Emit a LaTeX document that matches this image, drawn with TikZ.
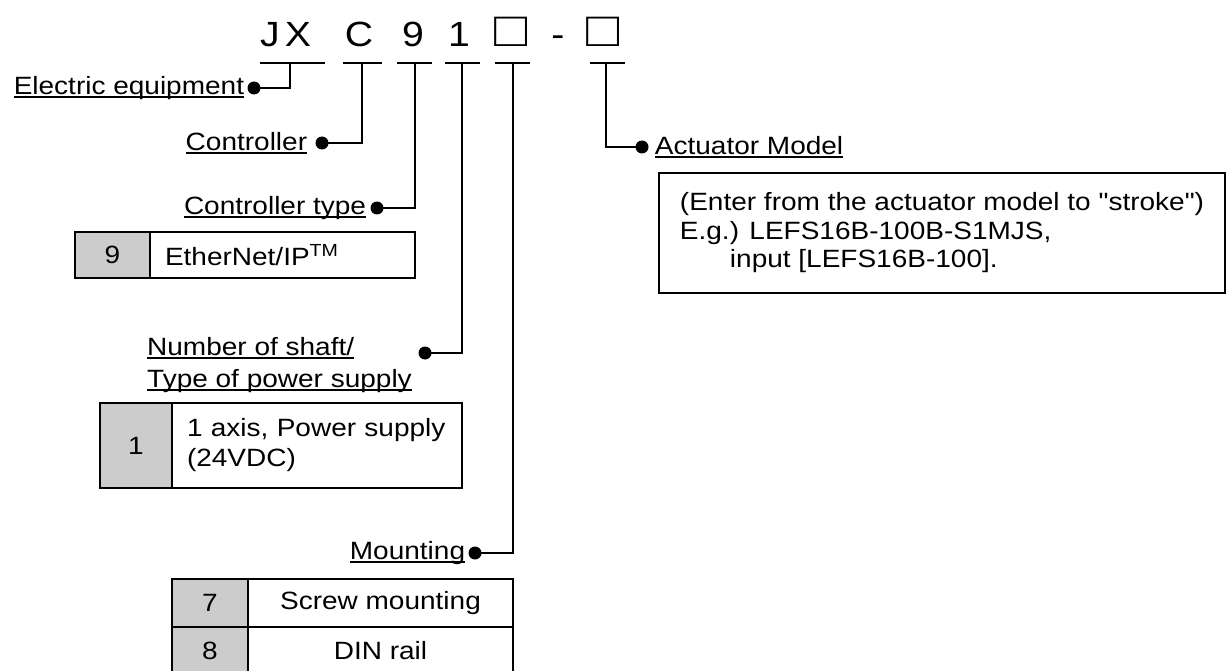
\documentclass[tikz,border=0pt]{standalone}
\usepackage{fontspec}
\setmainfont[FakeStretch=1.12,Ligatures=TeXOff]{Liberation Sans}
\usetikzlibrary{positioning}

% underlined label text
\newcommand{\undl}[1]{\setbox0\hbox{#1}\rlap{\rule[-4pt]{\wd0}{2pt}}\box0}

\begin{document}
\begin{tikzpicture}[x=1pt,y=-1pt,
    wire/.style={line width=2.7pt},
    dot/.style={circle,fill=black,inner sep=0pt,minimum size=13pt},
    lbl/.style={inner sep=0pt,font=\fontsize{25}{32}\selectfont},
    codechar/.style={inner sep=0pt,anchor=base},
    codecell/.style={draw,line width=2.3pt,outer sep=0pt,fill=black!20,inner sep=0pt,font=\fontsize{25}{30}\selectfont},
    desccell/.style={draw,line width=2.3pt,outer sep=0pt,inner sep=0pt,font=\fontsize{25}{30}\selectfont}]

    \useasboundingbox (0,0) rectangle (1226,671);

    % model code
    \foreach \c/\x/\s [count=\i] in {J/270/35, X/298/35, C/359/35, 9/413/35, 1/459/35, □/511/49, -/558/35, □/603/49}
      \node[codechar,font=\fontsize{\s}{40}\selectfont] (h\i) at (\x,47) {\c};

    % bars under the code
    \foreach \n/\l/\m/\r in {1/260/290/325, 2/343/362/382, 3/397/415/432, 4/445/462/480, 5/495/513/530, 6/590/606/625} {
      \draw[wire] (\l,63) -- (\r,63);
      \coordinate (s\n) at (\m,63);
    }

    % electric equipment
    \node[dot] (d1) at (254,88) {};
    \node[lbl,left=3pt of d1] (l1) {\undl{Electric equipment}};
    \draw[wire] (d1.center) -| (s1);

    % controller
    \node[dot] (d2) at (322,143) {};
    \node[lbl,left=8pt of d2] (l2) {\undl{Controller}};
    \draw[wire] (d2.center) -| (s2);

    % controller type
    \node[dot] (d3) at (377,208) {};
    \node[lbl,left=4pt of d3] (l3) {\undl{Controller type}};
    \draw[wire] (d3.center) -| (s3);

    \node[codecell,minimum width=75pt,minimum height=46pt,anchor=north west] (c9) at (75,232) {9};
    \node[desccell,minimum width=265pt,minimum height=46pt,text width=235pt,align=left,right=0pt of c9] (t9) {EtherNet/IP\textsuperscript{TM}};

    % number of shaft
    \node[dot] (d4) at (425,353) {};
    \node[lbl,align=left,anchor=north west] (l4) at (147,337) {\undl{Number of shaft/}\\\undl{Type of power supply}};
    \draw[wire] (d4.center) -| (s4);

    \node[codecell,minimum width=72pt,minimum height=85pt,anchor=north west] (c1) at (100,403) {1};
    \node[desccell,minimum width=290pt,minimum height=85pt,text width=260pt,align=left,right=0pt of c1] (t1) {1 axis, Power supply\\(24VDC)};

    % mounting
    \node[dot] (d5) at (475,553) {};
    \node[lbl,left=3pt of d5] (l5) {\undl{Mounting}};
    \draw[wire] (d5.center) -| (s5);

    \node[codecell,minimum width=76pt,minimum height=48pt,anchor=north west] (c7) at (172,579) {7};
    \node[desccell,minimum width=265pt,minimum height=48pt,right=0pt of c7] (t7) {Screw mounting};
    \node[codecell,minimum width=76pt,minimum height=48pt,below=0pt of c7] (c8) {8};
    \node[desccell,minimum width=265pt,minimum height=48pt,right=0pt of c8] (t8) {DIN rail};

    % actuator model
    \node[dot] (d6) at (642,147) {};
    \node[lbl,right=6pt of d6] (l6) {\undl{Actuator Model}};
    \draw[wire] (s6) |- (d6.center);

    \node[desccell,font=\fontsize{25}{28.5}\selectfont,minimum width=566pt,minimum height=120pt,align=left,anchor=north west] (am) at (659,173)
      {(Enter from the actuator model to "stroke")\\E.g.) LEFS16B-100B-S1MJS,\\\hspace*{50pt}input [LEFS16B-100].};

\end{tikzpicture}
\end{document}
